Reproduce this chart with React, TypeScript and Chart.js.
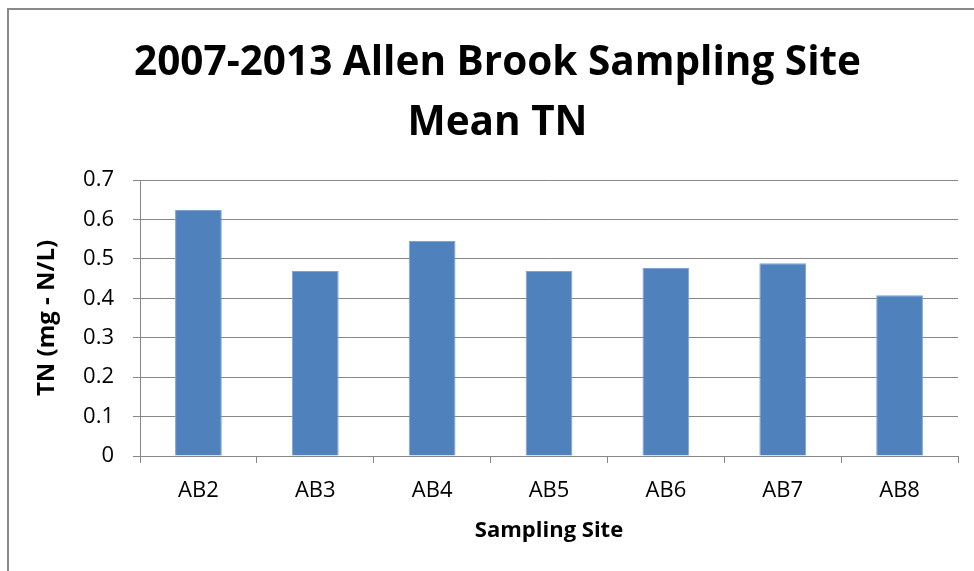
import React, { useEffect, useRef } from "react";
import { Chart, registerables } from "chart.js";

Chart.register(...registerables);

const titleLines = ["2007-2013 Allen Brook Sampling Site", "Mean TN"];
const categories = ["AB2", "AB3", "AB4", "AB5", "AB6", "AB7", "AB8"];
const meanTN = [0.624, 0.469, 0.545, 0.469, 0.477, 0.489, 0.408];
const yTitle = "TN (mg - N/L)";
const xTitle = "Sampling Site";

const FONT = "'Open Sans', 'DejaVu Sans', sans-serif";
const GRID = "#878787";

const shiftTitle = {
  id: "shiftTitle",
  afterLayout(chart: any) {
    const t = chart.titleBlock;
    if (t) {
      t.left = 21;
      t.right = 974;
    }
  },
};

export default function App() {
  const ref = useRef<HTMLCanvasElement | null>(null);
  useEffect(() => {
    if (!ref.current) return;
    const chart = new Chart(ref.current, {
      type: "bar",
      data: {
        labels: categories,
        datasets: [
          {
            data: meanTN,
            backgroundColor: "#4F81BD",
            borderColor: "#7EA3D1",
            borderWidth: 1,
            barPercentage: 0.4,
            categoryPercentage: 1,
          },
        ],
      },
      plugins: [shiftTitle],
      options: {
        responsive: false,
        animation: false,
        layout: { padding: { left: 20, right: 16, top: 0, bottom: 0 } },
        plugins: {
          legend: { display: false },
          tooltip: { enabled: false },
          title: {
            display: true,
            text: titleLines,
            color: "#000",
            font: { family: FONT, size: 40.5, weight: "bold", lineHeight: "60px" },
            padding: { top: 33, bottom: 27 },
          },
        },
        scales: {
          x: {
            afterFit: (s: any) => {
              s.height = 115;
            },
            grid: {
              drawOnChartArea: false,
              drawTicks: true,
              tickLength: 7,
              color: GRID,
              lineWidth: 1,
            },
            border: { color: GRID, width: 1 },
            ticks: {
              color: "#000",
              font: { family: FONT, size: 22 },
              padding: 15,
              maxRotation: 0,
              autoSkip: false,
            },
            title: {
              display: true,
              text: xTitle,
              color: "#000",
              font: { family: FONT, size: 22, weight: "bold", lineHeight: 1.2 },
              padding: { top: 0, bottom: 27 },
            },
          },
          y: {
            min: 0,
            max: 0.7,
            afterFit: (s: any) => {
              s.width = 120;
            },
            grid: {
              color: GRID,
              lineWidth: 1,
              tickLength: 7,
            },
            border: { color: GRID, width: 1 },
            ticks: {
              stepSize: 0.1,
              color: "#000",
              font: { family: FONT, size: 22 },
              padding: 19,
              callback: (v: any) => (Number(v) === 0 ? "0" : Number(v).toFixed(1)),
            },
            title: {
              display: true,
              text: yTitle,
              color: "#000",
              font: { family: FONT, size: 24, weight: "bold", lineHeight: 1.2 },
              padding: { top: 13, bottom: 0 },
            },
          },
        },
      },
    });
    return () => chart.destroy();
  }, []);

  return (
    <div style={{ position: "absolute", left: 0, top: 0, width: 974, height: 571, overflow: "hidden", background: "#fff" }}>
      <div
        style={{
          position: "absolute",
          left: 7,
          top: 8,
          width: 980,
          height: 580,
          borderLeft: "2px solid #8a8a8a",
          borderTop: "2px solid #8a8a8a",
        }}
      />
      <canvas ref={ref} width={974} height={571} style={{ position: "absolute", left: 0, top: 0 }} />
    </div>
  );
}
